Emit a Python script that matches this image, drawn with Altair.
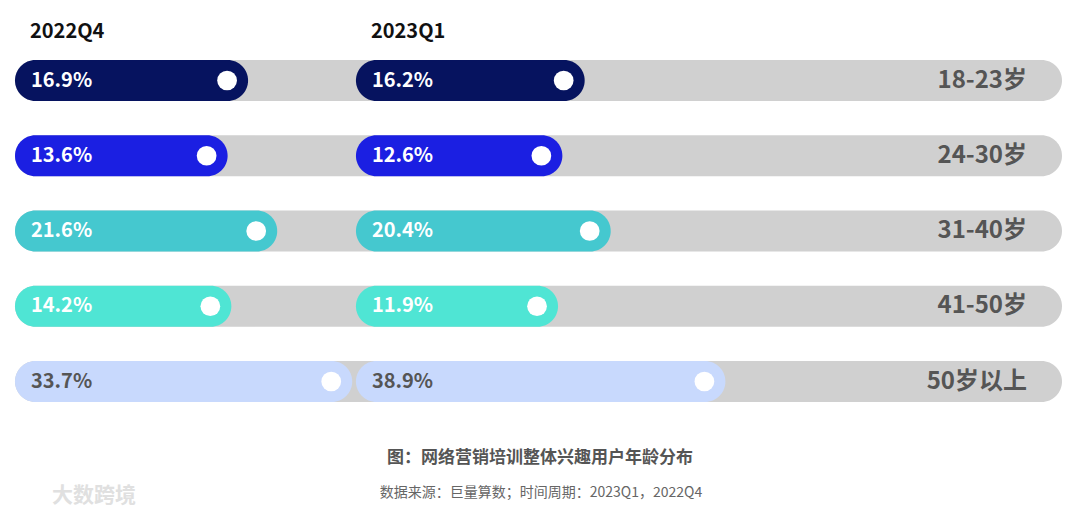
import altair as alt
import pandas as pd

ages = ["18-23岁", "24-30岁", "31-40岁", "41-50岁", "50岁以上"]
q4_values = [16.9, 13.6, 21.6, 14.2, 33.7]
q1_values = [16.2, 12.6, 20.4, 11.9, 38.9]
bar_colors = ["#06135f", "#1b1fe2", "#45c8cf", "#4fe5d4", "#c8d9fd"]
label_colors = ["#ffffff", "#ffffff", "#ffffff", "#ffffff", "#555555"]
col_headers = ["2022Q4", "2023Q1"]
title_text = "图：网络营销培训整体兴趣用户年龄分布"
source_text = "数据来源：巨量算数；时间周期：2023Q1，2022Q4"
brand_text = "大数跨境"

FONT = "Noto Sans CJK SC"
BASE = -20.7      # axis start (bar origin for first column)
END = 148.2       # right end of the track
SHIFT = 55.0      # offset of the second column in value units

df = pd.DataFrame({
    "age": ages,
    "q4": q4_values,
    "q1": q1_values,
    "bar_color": bar_colors,
    "label_color": label_colors,
})

xs = alt.Scale(domain=[BASE, END], range=[7, 1054], zero=False, nice=False)
ys = alt.Scale(type="point", domain=ages, range=[72.5, 373.5], padding=0)
Y = alt.Y("age:N", scale=ys, axis=None)

base = alt.Chart(df).transform_calculate(
    q4_lbl="format(datum.q4, '.1f') + '%'",
    q1_lbl="format(datum.q1, '.1f') + '%'",
    q1_pos=f"datum.q1 + {SHIFT}",
    q4_base=f"{BASE}",
    q1_base=f"{BASE + SHIFT}",
    track_end=f"{END}",
)

track = base.mark_bar(height=41, cornerRadius=20.5, color="#d0d0d0").encode(
    x=alt.X("q4_base:Q", scale=xs, axis=None), x2="track_end:Q", y=Y
)

q4_bar = base.mark_bar(height=41, cornerRadius=20.5).encode(
    x=alt.X("q4_base:Q", scale=xs, axis=None), x2="q4:Q", y=Y,
    color=alt.Color("bar_color:N", scale=None),
)
q1_bar = base.mark_bar(height=41, cornerRadius=20.5).encode(
    x=alt.X("q1_base:Q", scale=xs, axis=None), x2="q1_pos:Q", y=Y,
    color=alt.Color("bar_color:N", scale=None),
)

q4_dot = base.mark_circle(size=390, color="white", opacity=1, xOffset=-21).encode(
    x=alt.X("q4:Q", scale=xs, axis=None), y=Y
)
q1_dot = base.mark_circle(size=390, color="white", opacity=1, xOffset=-21).encode(
    x=alt.X("q1_pos:Q", scale=xs, axis=None), y=Y
)

txt_kw = dict(font=FONT, fontWeight="bold", fontSize=20, align="left", baseline="middle", dx=16)
q4_txt = base.mark_text(**txt_kw).encode(
    x=alt.X("q4_base:Q", scale=xs, axis=None), y=Y, text="q4_lbl:N",
    color=alt.Color("label_color:N", scale=None),
)
q1_txt = base.mark_text(**txt_kw).encode(
    x=alt.X("q1_base:Q", scale=xs, axis=None), y=Y, text="q1_lbl:N",
    color=alt.Color("label_color:N", scale=None),
)

age_txt = base.mark_text(font=FONT, fontWeight="bold", fontSize=24, align="right",
                         baseline="middle", dx=-35, color="#555555").encode(
    x=alt.X("track_end:Q", scale=xs, axis=None), y=Y, text="age:N"
)

hdr_df = pd.DataFrame({"h": col_headers, "pos": [BASE, BASE + SHIFT]})
headers = alt.Chart(hdr_df).mark_text(font=FONT, fontWeight="bold", fontSize=20,
                                      align="left", baseline="middle", dx=15,
                                      color="#111111").encode(
    x=alt.X("pos:Q", scale=xs, axis=None), y=alt.value(24), text="h:N"
)

title = alt.Chart(pd.DataFrame({"t": [title_text]})).mark_text(
    font=FONT, fontWeight="bold", fontSize=17, color="#555555", align="center", baseline="middle"
).encode(x=alt.value(532), y=alt.value(450), text="t:N")

source = alt.Chart(pd.DataFrame({"t": [source_text]})).mark_text(
    font=FONT, fontSize=14, color="#666666", align="center", baseline="middle"
).encode(x=alt.value(533), y=alt.value(485), text="t:N")

brand = alt.Chart(pd.DataFrame({"t": [brand_text]})).mark_text(
    font=FONT, fontWeight="bold", fontSize=21, color="#e0e0e0", align="left", baseline="middle"
).encode(x=alt.value(44), y=alt.value(488), text="t:N")

chart = alt.layer(
    track, q4_bar, q1_bar, q4_dot, q1_dot, q4_txt, q1_txt, age_txt,
    headers, title, source, brand
).properties(
    width=1064, height=500, padding=0,
    autosize=alt.AutoSizeParams(type="none"),
).configure_view(stroke=None)

chart.save("out.html", embed_options={"renderer": "svg", "actions": False})
